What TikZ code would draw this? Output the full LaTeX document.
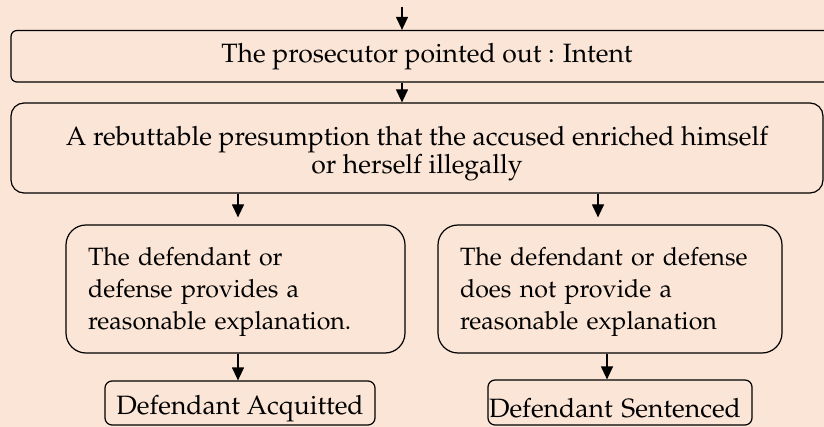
\documentclass[tikz,border=0pt]{standalone}
\usepackage[T1]{fontenc}
\usepackage{mathpazo}
\usepackage{tikz}
\usetikzlibrary{arrows.meta}
\definecolor{peach}{RGB}{251, 229, 214}
\newcommand{\lowerby}[1]{\rule{0pt}{#1}}

\begin{document}
\begin{tikzpicture}[x=1pt, y=-1pt, line width=1.2,
    >={Triangle[width=12pt, length=13pt]},
    box/.style={draw, fill=peach, rounded corners=#1, inner sep=0pt,
      font=\fontsize{26.5}{32}\selectfont},
    sidebox/.style={box=20pt, align=left, inner xsep=22pt, minimum height=128,
      font=\fontsize{25}{32}\selectfont}]
  \useasboundingbox (0, 0) rectangle (824, 427);
  \fill[peach] (0, 0) rectangle (824, 427);

  \node[box=6pt, minimum width=832, minimum height=51.5] (intent) at (427, 56.25)
    {The prosecutor pointed out : Intent};
  \node[box=13pt, minimum width=812, minimum height=90, align=center,
    font=\fontsize{26.5}{28}\selectfont] (presum) at (417, 148)
    {\lowerby{31pt}A rebuttable presumption that the accused enriched himself\\ or herself illegally};

  \node[sidebox, text width=295] (yes) at (235.5, 289)
    {\lowerby{25pt}The defendant or\\ defense provides a\\ reasonable explanation.};
  \node[sidebox, text width=300] (no) at (610, 289)
    {\lowerby{25pt}The defendant or defense\\ does not provide a\\ reasonable explanation};

  \node[box=7pt, minimum width=270, minimum height=44] (acq) at (240, 403)
    {\lowerby{30pt}Defendant Acquitted};
  \node[box=7pt, align=left, text width=262, inner xsep=1pt, minimum height=45]
    (sent) at (620, 402.5) {\lowerby{30pt}Defendant Sentenced};

  \coordinate (top) at (402, 7);
  \draw[->] (top) -- (top |- intent.north);
  \draw[->] (top |- intent.south) -- (top |- presum.north);
  \draw[->, shorten >=7pt] ([xshift=2.5pt]yes.north |- presum.south) -- ([xshift=2.5pt]yes.north);
  \draw[->, shorten >=7pt] ([xshift=-12pt]no.north |- presum.south) -- ([xshift=-12pt]no.north);
  \draw[->] ([xshift=2.5pt]yes.south) -- ([xshift=2.5pt]yes.south |- acq.north);
  \draw[->] ([xshift=-3pt]no.south) -- ([xshift=-3pt]no.south |- sent.north);

\end{tikzpicture}
\end{document}
